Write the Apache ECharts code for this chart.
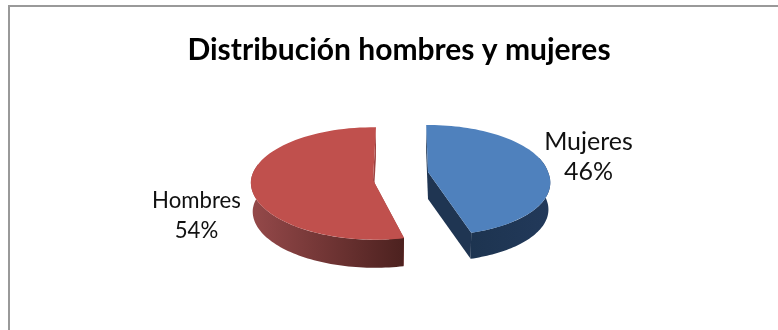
<!DOCTYPE html>
<html>
<head>
<meta charset="utf-8">
<style>html,body{margin:0;padding:0;background:#fff}#chart{width:778px;height:330px}</style>
<script src="https://cdn.jsdelivr.net/npm/echarts@6/dist/echarts.min.js"></script>
</head>
<body>
<div id="chart"></div>
<script>
const titleText = 'Distribución hombres y mujeres';
const categories = ['Mujeres', 'Hombres'];
const shares = [46, 54];

const FONT = 'Lato, "Open Sans", sans-serif';
const DEPTH_STEPS = 72;

// Placement of each exploded wedge on the tilted plane.
const wedgeLook = [
  { cx: 428, cy: 172, rx: 120, ry: 54, k: 0.148, depth: 27, turn: -1, lean: 0.1,
    top: '#4f81bd', cut: '#1f3552',
    wall: ['#1d3450', '#22395a'],
    labelX: 588.5, labelY: 157, labelSize: 25 },
  { cx: 373, cy: 180, rx: 122, ry: 56, k: 0.062, depth: 29, turn: 1.5, lean: 0.035,
    top: '#c0504d', cut: '#9e4240',
    wall: ['#95494a', '#4c211f'],
    labelX: 196.5, labelY: 216, labelSize: 22.2 }
];

function project(look, deg, scale, drop) {
  const a = (deg + look.turn) * Math.PI / 180;
  const s = scale / (1 + look.k * Math.cos(a));
  const dy = -look.ry * Math.cos(a) * s;
  // Nearer half of the rim fans outward a little under the perspective.
  const fan = dy > 0 ? look.lean * dy : 0;
  return [look.cx + look.rx * Math.sin(a) * s + fan, look.cy + drop + dy];
}

function arc(look, from, to, scale, drop) {
  const pts = [];
  for (let i = 0; i <= DEPTH_STEPS; i++) {
    pts.push(project(look, from + (to - from) * i / DEPTH_STEPS, scale, drop));
  }
  return pts;
}

function renderWedge(params, api) {
  const index = params.dataIndex;
  const look = wedgeLook[index];
  const total = shares.reduce((a, b) => a + b, 0);
  const before = shares.slice(0, index).reduce((a, b) => a + b, 0);
  const from = before / total * 360;
  const to = (before + api.value(0)) / total * 360;
  const hub = [look.cx, look.cy];
  const hubLow = [look.cx, look.cy + look.depth];

  const upper = arc(look, from, to, 1, 0);
  const lower = arc(look, from, to, 0.985, look.depth);

  // The outer wall only shows on the near side of the rim.
  const wallFrom = Math.max(from, 75);
  const wallTo = Math.min(to, 285);
  const wallUpper = arc(look, wallFrom, wallTo, 1, 0);
  const wallLower = arc(look, wallFrom, wallTo, 0.985, look.depth);

  const children = [
    { type: 'polygon', shape: { points: [hub, upper[0], lower[0], hubLow] },
      style: { fill: look.cut } },
    { type: 'polygon', shape: { points: [hub, upper[DEPTH_STEPS], lower[DEPTH_STEPS], hubLow] },
      style: { fill: look.cut } },
    { type: 'polygon', shape: { points: wallUpper.concat(wallLower.slice().reverse()) },
      style: { fill: { type: 'linear', x: 0, y: 0, x2: 1, y2: 0,
        colorStops: [{ offset: 0, color: look.wall[0] }, { offset: 1, color: look.wall[1] }] } } },
    { type: 'polygon', shape: { points: [hub].concat(upper) },
      style: { fill: look.top } },
    { type: 'text', x: look.labelX, y: look.labelY,
      style: { text: categories[index] + '\n' + api.value(0) + '%',
        font: look.labelSize + 'px ' + FONT, fill: '#111111',
        align: 'center', verticalAlign: 'middle', lineHeight: 30.5 } }
  ];
  return { type: 'group', children };
}

const chart = echarts.init(document.getElementById('chart'), null, { renderer: 'canvas' });
chart.setOption({
  animation: false,
  backgroundColor: '#ffffff',
  title: {
    text: titleText, left: 394, top: 30, textAlign: 'center',
    textStyle: { fontFamily: FONT, fontWeight: 'bold', fontSize: 30, color: '#000' }
  },
  graphic: [{
    type: 'polyline',
    shape: { points: [[9, 330], [9, 6], [778, 6]] },
    style: { stroke: '#999999', lineWidth: 2, fill: 'none' }
  }],
  series: [{
    type: 'custom',
    coordinateSystem: 'none',
    renderItem: renderWedge,
    data: shares.map(v => [v])
  }]
});
</script>
</body>
</html>
